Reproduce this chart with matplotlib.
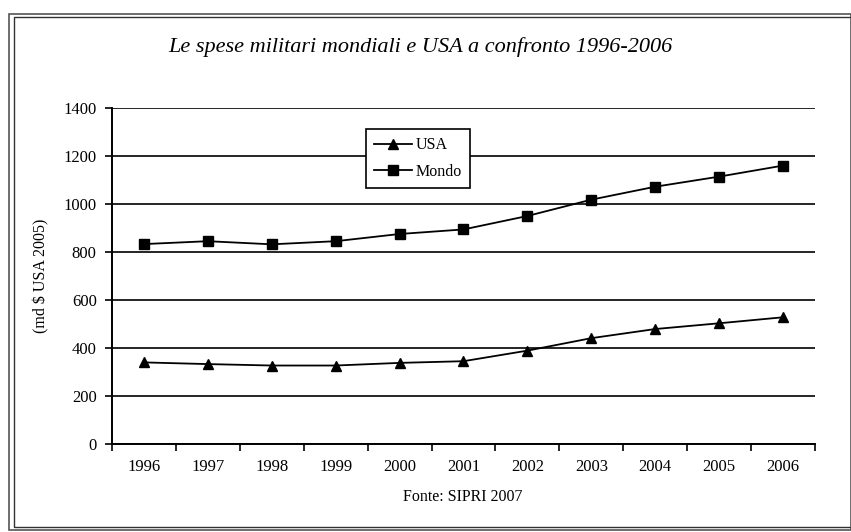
import numpy as np
import matplotlib.pyplot as plt
from matplotlib.patches import Rectangle

anni = ['1996', '1997', '1998', '1999', '2000', '2001',
        '2002', '2003', '2004', '2005', '2006']
usa = [340, 333, 327, 327, 338, 345, 389, 441, 479, 503, 528]
mondo = [833, 845, 832, 845, 875, 894, 950, 1018, 1072, 1114, 1160]
y_ticks = [0, 200, 400, 600, 800, 1000, 1200, 1400]

plt.rcParams['font.family'] = ['Liberation Serif', 'DejaVu Serif']

fig = plt.figure(figsize=(8.51, 5.32), dpi=100)
ax = fig.add_axes([0.1316, 0.1654, 0.826, 0.6316])

x = np.arange(len(anni))
ax.plot(x, usa, color='black', lw=1.3, marker='^', ms=7.5, label='USA')
ax.plot(x, mondo, color='black', lw=1.3, marker='s', ms=7, label='Mondo')

ax.set_xlim(-0.5, len(anni) - 0.5)
ax.set_ylim(0, 1400)
ax.set_yticks(y_ticks)
ax.set_yticklabels([str(v) for v in y_ticks], fontsize=12)
ax.yaxis.grid(True, color='black', lw=1.2)
ax.set_axisbelow(True)

ax.set_xticks(x)
ax.set_xticklabels(anni, fontsize=12)
ax.set_xticks(np.arange(-0.5, len(anni)), minor=True)
ax.tick_params(axis='x', which='major', length=0, pad=11)
ax.tick_params(axis='x', which='minor', length=5, width=1.2, direction='out')
ax.tick_params(axis='y', length=5, width=1.2, direction='out', pad=6)

for s in ['top', 'right']:
    ax.spines[s].set_visible(False)
for s in ['left', 'bottom']:
    ax.spines[s].set_linewidth(1.4)

ax.set_ylabel('(md $ USA 2005)', fontsize=11.5, labelpad=10)

leg = ax.legend(loc='upper left', bbox_to_anchor=(0.35, 0.96), fontsize=11.5,
                frameon=True, fancybox=False, edgecolor='black',
                handlelength=2.4, borderpad=0.5, labelspacing=0.65,
                handletextpad=0.2, framealpha=1)
leg.get_frame().set_linewidth(1.2)

fig.text(0.494, 0.912, 'Le spese militari mondiali e USA a confronto 1996-2006',
         ha='center', va='center', fontsize=16, style='italic')
fig.text(0.544, 0.066, 'Fonte: SIPRI 2007', ha='center', va='center', fontsize=11.5)

# cornice doppia
fig.patches.append(Rectangle((0.010, 0.004), 0.99, 0.97, transform=fig.transFigure,
                             fill=False, edgecolor='#555555', lw=1.2))
fig.patches.append(Rectangle((0.016, 0.010), 0.99, 0.958, transform=fig.transFigure,
                             fill=False, edgecolor='#333333', lw=1.0))

fig.savefig('out.png', dpi=100)
